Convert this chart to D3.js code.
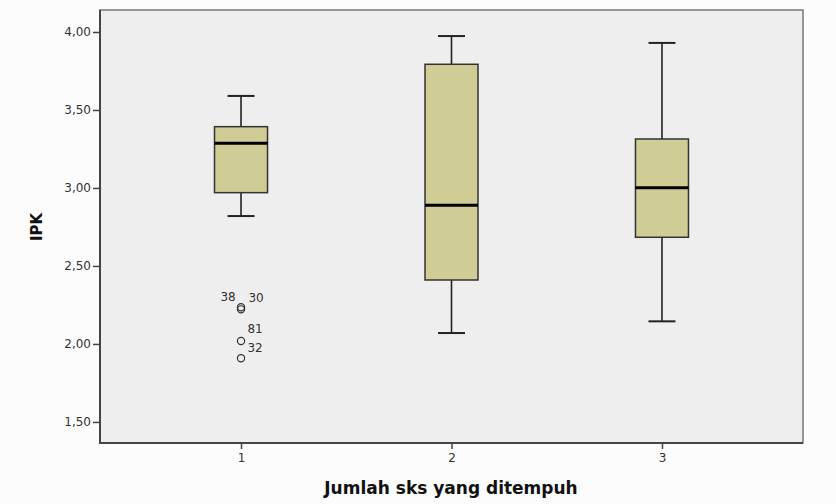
<!DOCTYPE html>
<html lang="en">
<head>
<meta charset="UTF-8">
<title>IPK boxplot</title>
<style>
  body { margin: 0; background: #fcfcfc; }
  text { font-family: "DejaVu Sans", Verdana, sans-serif; }
</style>
</head>
<body>
<svg id="chart" width="836" height="504"></svg>
<script src="https://cdn.jsdelivr.net/npm/d3@7"></script>
<script>
  // data
  let groups = ["1", "2", "3"]
  let whiskerLow = [2.82, 2.07, 2.145]
  let q1 = [2.97, 2.41, 2.684]
  let median = [3.286, 2.889, 3.002]
  let q3 = [3.393, 3.793, 3.314]
  let whiskerHigh = [3.59, 3.974, 3.93]

  let outlierGroup = ["1", "1", "1", "1"]
  let outlierValue = [2.235, 2.222, 2.019, 1.908]
  let outlierId = ["38", "30", "81", "32"]

  let yTicks = [1.5, 2.0, 2.5, 3.0, 3.5, 4.0]

  let svg = d3.select("#chart")
  let pLeft = 100, pRight = 803, pTop = 10, pBottom = 443

  let x = d3.scalePoint().domain(groups).range([pLeft, pRight]).padding(0.67)
  let y = d3.scaleLinear().domain([1.365, 4.141]).range([pBottom, pTop])

  // plot area
  svg.append("rect")
    .attr("x", pLeft).attr("y", pTop)
    .attr("width", pRight - pLeft).attr("height", pBottom - pTop)
    .attr("fill", "#eeeeee")
    .attr("stroke", "#777").attr("stroke-width", 1.5)

  let boxW = 53, capW = 27
  let boxes = groups.map((g, i) => ({
    g, lo: whiskerLow[i], q1: q1[i], med: median[i], q3: q3[i], hi: whiskerHigh[i]
  }))

  let bx = svg.append("g")
  bx.selectAll("line.stemHi").data(boxes).enter().append("line")
    .attr("x1", d => x(d.g)).attr("x2", d => x(d.g))
    .attr("y1", d => y(d.q3)).attr("y2", d => y(d.hi))
    .attr("stroke", "#222").attr("stroke-width", 1.6)
  bx.selectAll("line.stemLo").data(boxes).enter().append("line")
    .attr("x1", d => x(d.g)).attr("x2", d => x(d.g))
    .attr("y1", d => y(d.q1)).attr("y2", d => y(d.lo))
    .attr("stroke", "#222").attr("stroke-width", 1.6)
  bx.selectAll("line.capHi").data(boxes).enter().append("line")
    .attr("x1", d => x(d.g) - capW / 2).attr("x2", d => x(d.g) + capW / 2)
    .attr("y1", d => y(d.hi)).attr("y2", d => y(d.hi))
    .attr("stroke", "#222").attr("stroke-width", 2)
  bx.selectAll("line.capLo").data(boxes).enter().append("line")
    .attr("x1", d => x(d.g) - capW / 2).attr("x2", d => x(d.g) + capW / 2)
    .attr("y1", d => y(d.lo)).attr("y2", d => y(d.lo))
    .attr("stroke", "#222").attr("stroke-width", 2)
  bx.selectAll("rect").data(boxes).enter().append("rect")
    .attr("x", d => x(d.g) - boxW / 2).attr("width", boxW)
    .attr("y", d => y(d.q3)).attr("height", d => y(d.q1) - y(d.q3))
    .attr("fill", "#d0cc96").attr("stroke", "#333").attr("stroke-width", 1.5)
  bx.selectAll("line.med").data(boxes).enter().append("line")
    .attr("x1", d => x(d.g) - boxW / 2).attr("x2", d => x(d.g) + boxW / 2)
    .attr("y1", d => y(d.med)).attr("y2", d => y(d.med))
    .attr("stroke", "#000").attr("stroke-width", 3)

  // outliers
  let outliers = outlierValue.map((v, i) => ({ g: outlierGroup[i], v, id: outlierId[i] }))
  svg.selectAll("circle.out").data(outliers).enter().append("circle")
    .attr("cx", d => x(d.g)).attr("cy", d => y(d.v)).attr("r", 3.6)
    .attr("fill", "none").attr("stroke", "#333").attr("stroke-width", 1.2)
  // label placement: first of an overlapping pair goes left, rest above-right
  let labelDx = [-13, 15, 14, 14], labelDy = [-10, -12, -12, -11]
  svg.selectAll("text.out").data(outliers).enter().append("text")
    .attr("x", (d, i) => x(d.g) + labelDx[i])
    .attr("y", (d, i) => y(d.v) + labelDy[i])
    .attr("dy", "0.35em")
    .attr("text-anchor", "middle")
    .attr("font-size", 12).attr("fill", "#333")
    .text(d => d.id)

  // y axis
  let yAxis = svg.append("g").attr("transform", `translate(${pLeft},0)`)
    .call(d3.axisLeft(y).tickValues(yTicks).tickSize(7).tickPadding(2)
      .tickFormat(d => d3.format(".2f")(d).replace(".", ",")))
  yAxis.select(".domain").remove()
  yAxis.selectAll("line").attr("stroke", "#444").attr("stroke-width", 1.5)
  yAxis.selectAll("text").attr("font-size", 12).attr("fill", "#333")
    .attr("font-family", "DejaVu Sans")

  // x axis
  let xAxis = svg.append("g").attr("transform", `translate(0,${pBottom})`)
    .call(d3.axisBottom(x).tickSize(6).tickPadding(4))
  xAxis.select(".domain").remove()
  xAxis.selectAll("line").attr("stroke", "#444").attr("stroke-width", 1.5)
  xAxis.selectAll("text").attr("font-size", 12).attr("fill", "#333")
    .attr("font-family", "DejaVu Sans")

  // axis lines darker on left and bottom
  svg.append("path")
    .attr("d", `M${pLeft},${pTop}V${pBottom}H${pRight}`)
    .attr("fill", "none").attr("stroke", "#444").attr("stroke-width", 2)

  // titles
  svg.append("text")
    .attr("transform", `translate(42,227) rotate(-90)`)
    .attr("text-anchor", "middle")
    .attr("font-size", 15).attr("font-weight", "bold").attr("fill", "#111")
    .text("IPK")
  svg.append("text")
    .attr("x", 451).attr("y", 494)
    .attr("text-anchor", "middle")
    .attr("font-size", 17).attr("font-weight", "bold").attr("fill", "#111")
    .text("Jumlah sks yang ditempuh")
</script>
</body>
</html>
